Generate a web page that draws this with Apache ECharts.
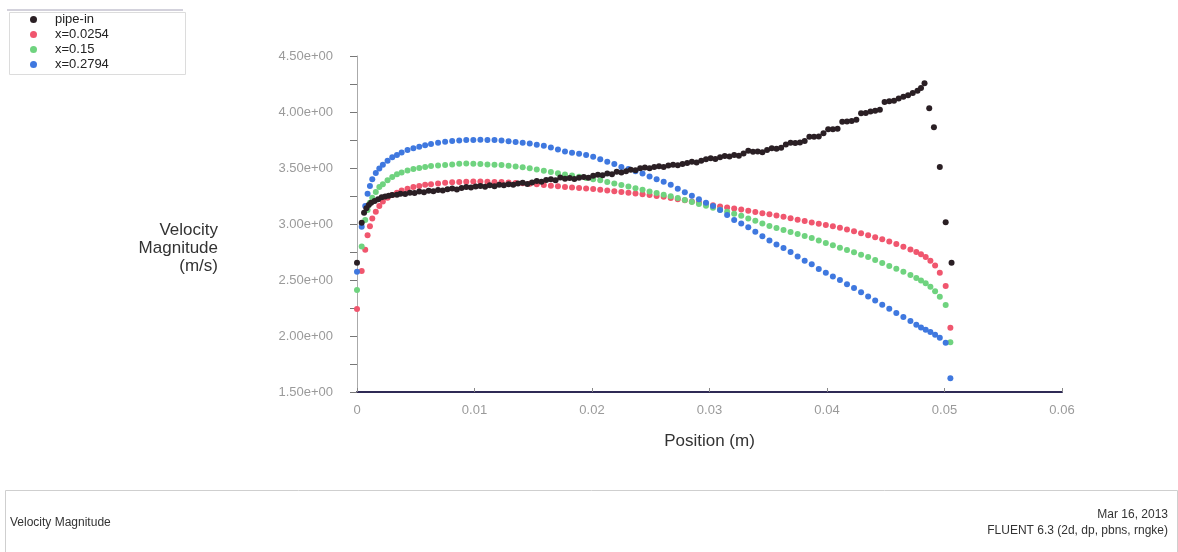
<!DOCTYPE html>
<html>
<head>
<meta charset="utf-8">
<script src="https://cdn.jsdelivr.net/npm/echarts@6/dist/echarts.min.js"></script>
<style>
html,body{margin:0;padding:0;background:#fff;}
#chart{width:1178px;height:552px;}
</style>
</head>
<body>
<div id="chart"></div>
<script>
// ---------- DATA ----------
var seriesNames = ['pipe-in', 'x=0.0254', 'x=0.15', 'x=0.2794'];
var xTickLabels = ['0', '0.01', '0.02', '0.03', '0.04', '0.05', '0.06'];
var yTickLabels = ['1.50e+00', '2.00e+00', '2.50e+00', '3.00e+00', '3.50e+00', '4.00e+00', '4.50e+00'];

// positions (m) shared by the three x-stations
var posStations = [
  0, 0.0004, 0.0007, 0.0009, 0.0011, 0.0013, 0.0016, 0.0019, 0.0022, 0.0026,
  0.0030, 0.0034, 0.0038, 0.0043, 0.0048, 0.0053, 0.0058, 0.0063, 0.0069, 0.0075,
  0.0081, 0.0087, 0.0093, 0.0099, 0.0105, 0.0111, 0.0117, 0.0123, 0.0129, 0.0135,
  0.0141, 0.0147, 0.0153, 0.0159, 0.0165, 0.0171, 0.0177, 0.0183, 0.0189, 0.0195,
  0.0201, 0.0207, 0.0213, 0.0219, 0.0225, 0.0231, 0.0237, 0.0243, 0.0249, 0.0255,
  0.0261, 0.0267, 0.0273, 0.0279, 0.0285, 0.0291, 0.0297, 0.0303, 0.0309, 0.0315,
  0.0321, 0.0327, 0.0333, 0.0339, 0.0345, 0.0351, 0.0357, 0.0363, 0.0369, 0.0375,
  0.0381, 0.0387, 0.0393, 0.0399, 0.0405, 0.0411, 0.0417, 0.0423, 0.0429, 0.0435,
  0.0441, 0.0447, 0.0453, 0.0459, 0.0465, 0.0471, 0.0476, 0.0480, 0.0484, 0.0488,
  0.0492, 0.0496, 0.0501, 0.0505
];

var velX0254 = [
  2.24, 2.58, 2.77, 2.90, 2.98, 3.05, 3.11, 3.16, 3.20, 3.235,
  3.26, 3.28, 3.30, 3.315, 3.33, 3.34, 3.35, 3.355, 3.362, 3.369,
  3.372, 3.376, 3.378, 3.38, 3.38, 3.378, 3.376, 3.374, 3.37, 3.367,
  3.363, 3.359, 3.354, 3.348, 3.342, 3.336, 3.33, 3.326, 3.322, 3.318,
  3.313, 3.306, 3.30, 3.293, 3.286, 3.279, 3.272, 3.266, 3.26, 3.251,
  3.243, 3.233, 3.222, 3.211, 3.201, 3.191, 3.18, 3.167, 3.156, 3.147,
  3.139, 3.129, 3.119, 3.108, 3.097, 3.087, 3.076, 3.065, 3.052, 3.039,
  3.026, 3.013, 3.002, 2.991, 2.98, 2.967, 2.952, 2.936, 2.918, 2.90,
  2.882, 2.863, 2.844, 2.822, 2.797, 2.772, 2.75, 2.73, 2.705, 2.672,
  2.63, 2.565, 2.446, 2.074
];

var velX015 = [
  2.41, 2.80, 3.036, 3.125, 3.19, 3.235, 3.285, 3.33, 3.355, 3.39,
  3.42, 3.445, 3.46, 3.478, 3.49, 3.50, 3.51, 3.518, 3.523, 3.527,
  3.532, 3.537, 3.54, 3.539, 3.535, 3.531, 3.528, 3.526, 3.52, 3.514,
  3.507, 3.497, 3.486, 3.476, 3.465, 3.454, 3.443, 3.432, 3.422, 3.411,
  3.40, 3.39, 3.376, 3.362, 3.348, 3.335, 3.32, 3.305, 3.29, 3.277,
  3.262, 3.248, 3.232, 3.215, 3.197, 3.178, 3.162, 3.146, 3.128, 3.11,
  3.092, 3.073, 3.05, 3.03, 3.005, 2.983, 2.965, 2.946, 2.928, 2.911,
  2.893, 2.874, 2.853, 2.831, 2.81, 2.789, 2.768, 2.747, 2.726, 2.705,
  2.679, 2.652, 2.626, 2.60, 2.574, 2.545, 2.518, 2.495, 2.47, 2.44,
  2.40, 2.351, 2.277, 1.944
];

var velX2794 = [
  2.574, 2.976, 3.16, 3.27, 3.34, 3.40, 3.455, 3.495, 3.53, 3.565,
  3.595, 3.615, 3.638, 3.66, 3.677, 3.69, 3.703, 3.714, 3.726, 3.734,
  3.742, 3.746, 3.749, 3.751, 3.752, 3.751, 3.749, 3.745, 3.738, 3.732,
  3.726, 3.718, 3.708, 3.698, 3.684, 3.665, 3.648, 3.637, 3.627, 3.616,
  3.60, 3.578, 3.556, 3.535, 3.51, 3.49, 3.47, 3.45, 3.425, 3.40,
  3.378, 3.35, 3.315, 3.283, 3.253, 3.22, 3.19, 3.16, 3.125, 3.08,
  3.035, 3.005, 2.97, 2.93, 2.89, 2.853, 2.818, 2.785, 2.75, 2.71,
  2.672, 2.64, 2.598, 2.565, 2.532, 2.50, 2.463, 2.428, 2.39, 2.353,
  2.316, 2.28, 2.243, 2.205, 2.17, 2.133, 2.10, 2.077, 2.055, 2.035,
  2.012, 1.985, 1.94, 1.622
];

// pipe inlet profile
var posPipeIn = [
  0, 0.0004, 0.0006, 0.0008, 0.0010, 0.0012, 0.0015, 0.0018, 0.0021, 0.0024,
  0.0027, 0.0030, 0.0034, 0.0037, 0.0041, 0.0045, 0.0049, 0.0053, 0.0057, 0.0061,
  0.0065, 0.0069, 0.0073, 0.0077, 0.0081, 0.0085, 0.0089, 0.0093, 0.0097, 0.0101,
  0.0105, 0.0109, 0.0113, 0.0117, 0.0121, 0.0125, 0.0129, 0.0133, 0.0137, 0.0141,
  0.0145, 0.0149, 0.0153, 0.0157, 0.0161, 0.0165, 0.0169, 0.0173, 0.0177, 0.0181,
  0.0185, 0.0189, 0.0193, 0.0197, 0.0201, 0.0205, 0.0209, 0.0213, 0.0217, 0.0221,
  0.0225, 0.0229, 0.0233, 0.0237, 0.0241, 0.0245, 0.0249, 0.0253, 0.0257, 0.0261,
  0.0265, 0.0269, 0.0273, 0.0277, 0.0281, 0.0285, 0.0289, 0.0293, 0.0297, 0.0301,
  0.0305, 0.0309, 0.0313, 0.0317, 0.0321, 0.0325, 0.0329, 0.0333, 0.0337, 0.0341,
  0.0345, 0.0349, 0.0353, 0.0357, 0.0361, 0.0365, 0.0369, 0.0373, 0.0377, 0.0381,
  0.0385, 0.0389, 0.0393, 0.0397, 0.0401, 0.0405, 0.0409, 0.0413, 0.0417, 0.0421,
  0.0425, 0.0429, 0.0433, 0.0437, 0.0441, 0.0445, 0.0449, 0.0453, 0.0457, 0.0461,
  0.0465, 0.0469, 0.0473, 0.0477, 0.0480, 0.0483, 0.0487, 0.0491, 0.0496, 0.0501,
  0.0506
];
var velPipeIn = [
  2.654, 3.012, 3.10, 3.14, 3.17, 3.19, 3.205, 3.22, 3.238, 3.245,
  3.252, 3.259, 3.262, 3.27, 3.268, 3.28, 3.276, 3.29, 3.284, 3.297,
  3.292, 3.304, 3.298, 3.31, 3.316, 3.308, 3.322, 3.33, 3.326, 3.335,
  3.34, 3.332, 3.345, 3.338, 3.35, 3.345, 3.356, 3.35, 3.362, 3.368,
  3.358, 3.37, 3.385, 3.378, 3.392, 3.40, 3.39, 3.416, 3.405, 3.41,
  3.402, 3.414, 3.42, 3.412, 3.43, 3.44, 3.435, 3.452, 3.445, 3.466,
  3.46, 3.472, 3.485, 3.48, 3.497, 3.505, 3.498, 3.51, 3.515, 3.508,
  3.522, 3.53, 3.525, 3.536, 3.545, 3.556, 3.55, 3.565, 3.578, 3.586,
  3.58, 3.595, 3.607, 3.602, 3.615, 3.61, 3.63, 3.655, 3.645, 3.648,
  3.64, 3.66, 3.676, 3.672, 3.68, 3.71, 3.726, 3.724, 3.728, 3.74,
  3.78, 3.78, 3.782, 3.81, 3.845, 3.846, 3.85, 3.913, 3.915, 3.92,
  3.93, 3.988, 3.99, 4.005, 4.012, 4.02, 4.09, 4.095, 4.10, 4.12,
  4.137, 4.15, 4.17, 4.19, 4.215, 4.256, 4.033, 3.863, 3.51, 3.015,
  2.654
];

var seriesColors = ['#2a1f24', '#f0566e', '#6fd37f', '#3f78df'];

// ---------- CHART ----------
function zip(xs, ys) {
  var n = Math.min(xs.length, ys.length), out = [];
  for (var i = 0; i < n; i++) out.push([xs[i], ys[i]]);
  return out;
}
function fmtY(v) {
  var idx = Math.round((v - 1.5) / 0.5);
  return yTickLabels[idx] !== undefined ? yTickLabels[idx] : '';
}
function fmtX(v) {
  var idx = Math.round(v / 0.01);
  return xTickLabels[idx] !== undefined ? xTickLabels[idx] : '';
}

var chart = echarts.init(document.getElementById('chart'), null, {renderer: 'canvas'});
var tickFont = '"Liberation Sans", Arial, sans-serif';

var option = {
  animation: false,
  backgroundColor: '#ffffff',
  grid: {left: 357, right: 116, top: 56, bottom: 160, containLabel: false},
  legend: {
    orient: 'vertical',
    left: 25,
    top: 8,
    itemWidth: 7,
    itemHeight: 7,
    itemGap: 2,
    icon: 'circle',
    data: seriesNames,
    textStyle: {fontSize: 13, lineHeight: 13, color: '#222', fontFamily: tickFont, padding: [0, 0, 0, 13]}
  },
  xAxis: {
    type: 'value', min: 0, max: 0.06, interval: 0.01,
    name: 'Position (m)', nameLocation: 'middle', nameGap: 41,
    nameTextStyle: {fontSize: 17, color: '#333', fontFamily: tickFont},
    axisLine: {show: true, onZero: false, lineStyle: {color: '#2f2a55', width: 2}},
    axisTick: {show: true, inside: true, length: 4, lineStyle: {color: '#888'}},
    axisLabel: {formatter: fmtX, margin: 12, fontSize: 13, color: '#9a9a9a', fontFamily: tickFont},
    splitLine: {show: false}
  },
  yAxis: {
    type: 'value', min: 1.5, max: 4.5, interval: 0.5,
    axisLine: {show: true, onZero: false, lineStyle: {color: '#aaa', width: 1}},
    axisTick: {show: true, inside: false, length: 7, lineStyle: {color: '#777'}},
    minorTick: {show: true, splitNumber: 2, length: 7, lineStyle: {color: '#777'}},
    axisLabel: {formatter: fmtY, margin: 24, fontSize: 13, color: '#9a9a9a', fontFamily: tickFont},
    splitLine: {show: false}
  },
  graphic: [
    {type: 'rect', left: 7, top: 10, shape: {width: 176, height: 62}, style: {fill: 'none', stroke: '#dcdcdc', lineWidth: 1}, z: -1},
    {type: 'line', shape: {x1: 7, y1: 10, x2: 183, y2: 10}, style: {stroke: '#a7a4b8', lineWidth: 1}},
    {type: 'text', right: 1178 - 218, top: 221, style: {text: 'Velocity\nMagnitude\n(m/s)', fontSize: 17, lineHeight: 18, fill: '#333', textAlign: 'right', font: '17px "Liberation Sans", Arial, sans-serif'}},
    {type: 'rect', left: 3, top: 488, shape: {width: 1172, height: 70}, style: {fill: 'none', stroke: '#cfcfcf', lineWidth: 1}},
    {type: 'text', left: 10, top: 517, style: {text: 'Velocity Magnitude', fill: '#333', font: '12px "Liberation Sans", Arial, sans-serif'}},
    {type: 'text', right: 10, top: 509, style: {text: 'Mar 16, 2013', textAlign: 'right', fill: '#333', font: '12px "Liberation Sans", Arial, sans-serif'}},
    {type: 'text', right: 10, top: 525, style: {text: 'FLUENT 6.3 (2d, dp, pbns, rngke)', textAlign: 'right', fill: '#333', font: '12px "Liberation Sans", Arial, sans-serif'}}
  ],
  series: [
    {name: seriesNames[1], type: 'scatter', symbol: 'circle', symbolSize: 6, data: zip(posStations, velX0254), itemStyle: {color: seriesColors[1], opacity: 1}},
    {name: seriesNames[2], type: 'scatter', symbol: 'circle', symbolSize: 6, data: zip(posStations, velX015), itemStyle: {color: seriesColors[2], opacity: 1}},
    {name: seriesNames[3], type: 'scatter', symbol: 'circle', symbolSize: 6, data: zip(posStations, velX2794), itemStyle: {color: seriesColors[3], opacity: 1}},
    {name: seriesNames[0], type: 'scatter', symbol: 'circle', symbolSize: 6, data: zip(posPipeIn, velPipeIn), itemStyle: {color: seriesColors[0], opacity: 1}}
  ]
};
chart.setOption(option);
</script>
</body>
</html>
